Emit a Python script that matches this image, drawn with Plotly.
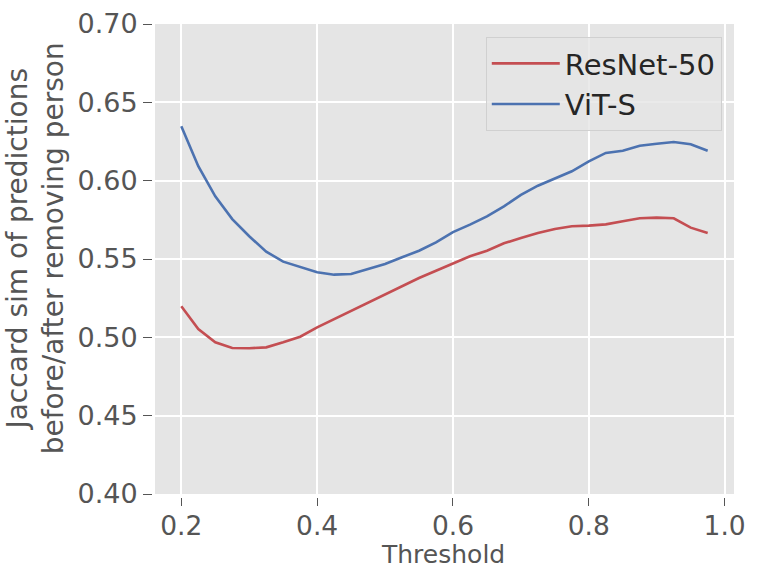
import plotly.graph_objects as go

thresholds = [0.200, 0.225, 0.250, 0.275, 0.300, 0.325, 0.350, 0.375, 0.400, 0.425,
              0.450, 0.475, 0.500, 0.525, 0.550, 0.575, 0.600, 0.625, 0.650, 0.675,
              0.700, 0.725, 0.750, 0.775, 0.800, 0.825, 0.850, 0.875, 0.900, 0.925,
              0.950, 0.975]

resnet50 = [0.5198, 0.5053, 0.4968, 0.4932, 0.4930, 0.4936, 0.4968, 0.5004, 0.5064, 0.5117,
            0.5170, 0.5223, 0.5277, 0.5330, 0.5379, 0.5425, 0.5470, 0.5517, 0.5553, 0.5600,
            0.5634, 0.5666, 0.5692, 0.5709, 0.5713, 0.5721, 0.5741, 0.5760, 0.5764, 0.5760,
            0.5700, 0.5666]

vit_s = [0.6347, 0.6092, 0.5900, 0.5755, 0.5645, 0.5547, 0.5483, 0.5447, 0.5415, 0.5400,
         0.5404, 0.5436, 0.5468, 0.5511, 0.5553, 0.5606, 0.5672, 0.5719, 0.5772, 0.5836,
         0.5909, 0.5968, 0.6015, 0.6060, 0.6123, 0.6177, 0.6191, 0.6223, 0.6236, 0.6247,
         0.6232, 0.6191]

x_ticks = [0.2, 0.4, 0.6, 0.8, 1.0]
x_tick_labels = ["0.2", "0.4", "0.6", "0.8", "1.0"]
y_ticks = [0.40, 0.45, 0.50, 0.55, 0.60, 0.65, 0.70]
y_tick_labels = ["0.40", "0.45", "0.50", "0.55", "0.60", "0.65", "0.70"]

FONT = "DejaVu Sans"
TICK_COLOR = "#555555"

fig = go.Figure()
fig.add_trace(go.Scatter(x=thresholds, y=resnet50, mode="lines", name="ResNet-50",
                         line=dict(color="#C44E52", width=2.6)))
fig.add_trace(go.Scatter(x=thresholds, y=vit_s, mode="lines", name="ViT-S",
                         line=dict(color="#4C72B0", width=2.6)))

fig.update_layout(
    width=762, height=585,
    margin=dict(l=152, r=28, t=24, b=88, pad=0, autoexpand=False),
    paper_bgcolor="white",
    plot_bgcolor="#E5E5E5",
    font=dict(family=FONT, color=TICK_COLOR),
    showlegend=True,
    legend=dict(
        x=0.979, y=0.9725, xanchor="right", yanchor="top",
        bgcolor="rgba(229,229,229,0.8)", bordercolor="#D0D0D0", borderwidth=1,
        font=dict(family=FONT, size=29, color="#262626"),
        itemwidth=68,
    ),
    xaxis=dict(
        domain=[0.00515, 1.0],
        range=[0.16125, 1.01375],
        anchor="free", position=0.0, automargin=False,
        tickmode="array", tickvals=x_ticks, ticktext=x_tick_labels,
        ticks="outside", ticklen=8, tickwidth=1.3, tickcolor=TICK_COLOR,
        tickfont=dict(family=FONT, size=26.5, color=TICK_COLOR),
        ticklabelstandoff=-3,
        showgrid=True, gridcolor="white", gridwidth=1.6,
        zeroline=False, showline=False,
    ),
    yaxis=dict(
        domain=[0.00634, 1.0],
        range=[0.40, 0.70],
        anchor="free", position=0.0, automargin=False,
        tickmode="array", tickvals=y_ticks, ticktext=y_tick_labels,
        ticks="outside", ticklen=9, tickwidth=1.3, tickcolor=TICK_COLOR,
        tickfont=dict(family=FONT, size=27, color=TICK_COLOR),
        showgrid=True, gridcolor="white", gridwidth=1.6,
        zeroline=False, showline=False,
    ),
    annotations=[
        dict(text="Threshold", xref="paper", yref="paper", x=0.5, y=-0.121,
             xanchor="center", yanchor="middle", showarrow=False,
             font=dict(family=FONT, size=25, color=TICK_COLOR)),
        dict(text="Jaccard sim of predictions<br>before/after removing person",
             xref="paper", yref="paper", x=-0.2, y=0.525, textangle=-90,
             xanchor="center", yanchor="middle", showarrow=False,
             font=dict(family=FONT, size=28, color=TICK_COLOR)),
    ],
)

fig.write_html("out.html", config={"displayModeBar": False},
               post_script="document.body.style.margin='0';")
